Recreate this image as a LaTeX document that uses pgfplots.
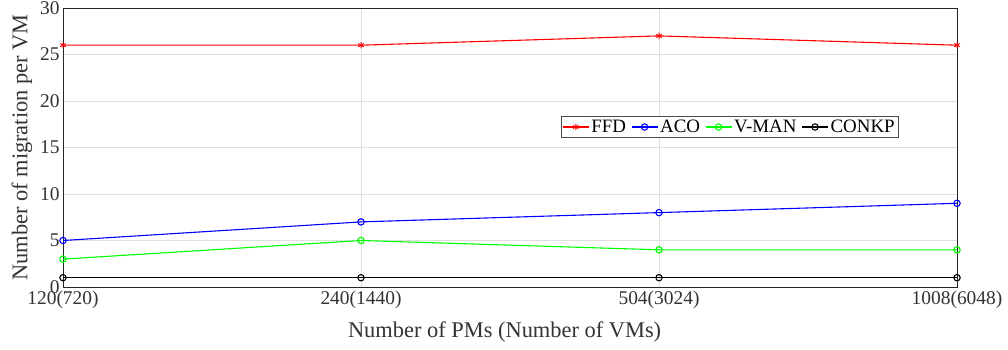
\documentclass[border=0pt]{standalone}
\usepackage{pgfplots}
\pgfplotsset{compat=1.18}
\usepackage{fontspec}
\setmainfont{Liberation Serif}
\begin{document}
\begin{tikzpicture}[x=1bp,y=1bp]
\begin{axis}[
  at={(0,0)}, anchor=south west,
  scale only axis,
  width=894bp, height=279bp,
  xmin=0, xmax=3, ymin=0, ymax=30,
  xtick={0,1,2,3},
  xticklabels={120(720),240(1440),504(3024),1008(6048)},
  ytick={0,5,10,15,20,25,30},
  grid=major,
  major grid style={gray!25},
  tick style={draw=none},
  axis line style={black!85, line width=0.9pt},
  tick label style={font=\fontsize{19.5}{21}\selectfont, text=black!80},
  label style={font=\fontsize{22.5}{24}\selectfont, text=black!80},
  xlabel={Number of PMs (Number of VMs)},
  ylabel={Number of migration per VM},
  xlabel style={at={(axis description cs:0.494,-0.161)}, anchor=center},
  ylabel style={at={(axis description cs:-0.0459,0.5)}, anchor=center},
  /pgf/number format/assume math mode=true,
  legend columns=4,
  legend style={at={(axis description cs:0.7455,0.5735)}, anchor=center, font=\fontsize{19}{21}\selectfont, draw=black!70, inner sep=1.5pt, /tikz/every even column/.append style={column sep=3pt}},
  legend image code/.code={\draw[mark repeat=2,mark phase=2] plot coordinates {(0bp,0bp) (13bp,0bp) (26bp,0bp)};},
  legend cell align=left,
  every axis plot/.append style={line width=1.1pt, mark size=3.2pt},
]
\addplot[red, mark=asterisk, mark options={line width=1pt}] coordinates {(0,26) (1,26) (2,27) (3,26)};
\addlegendentry{FFD}
\addplot[blue, mark=o] coordinates {(0,5) (1,7) (2,8) (3,9)};
\addlegendentry{ACO}
\addplot[green, mark=o] coordinates {(0,3) (1,5) (2,4) (3,4)};
\addlegendentry{V-MAN}
\addplot[black, mark=o] coordinates {(0,1) (1,1) (2,1) (3,1)};
\addlegendentry{CONKP}
\end{axis}
\pgfresetboundingbox
\useasboundingbox (-63,-62) rectangle (945,287);
\end{tikzpicture}
\end{document}
